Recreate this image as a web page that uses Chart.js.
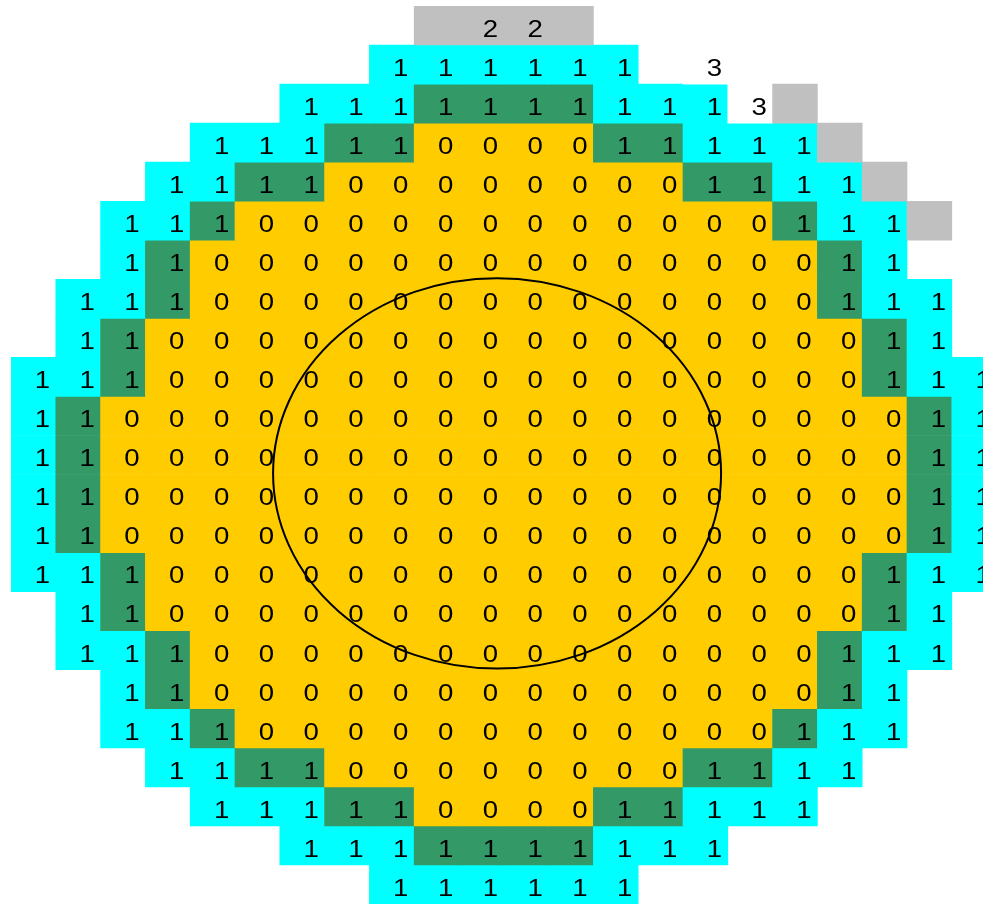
<!DOCTYPE html>
<html>
<head>
<meta charset="utf-8">
<title>Core map</title>
<script src="https://cdn.jsdelivr.net/npm/chart.js@4/dist/chart.umd.min.js"></script>
<style>
    html, body { margin: 0; padding: 0; background: #ffffff; overflow: hidden; }
    #wrap { width: 998px; height: 904px; }
</style>
</head>
<body>
<div id="wrap"><canvas id="coreChart" width="998" height="904"></canvas></div>
<script>
// column categories (22 columns, the last one is cut by the window)
const columns = ['0', '1', '2', '3', '4', '5', '6', '7', '8', '9', '10',
                 '11', '12', '13', '14', '15', '16', '17', '18', '19', '20', '21'];

// value shown in each cell, row by row from the top ('.' = no text)
const valueRows = [
    '..........22..........',
    '........111111.3......',
    '......11111111113.....',
    '....11111000011111....',
    '...1111000000001111...',
    '..111000000000000111..',
    '..110000000000000011..',
    '.11100000000000000111.',
    '.11000000000000000011.',
    '1110000000000000000111',
    '1100000000000000000011',
    '1100000000000000000011',
    '1100000000000000000011',
    '1100000000000000000011',
    '1110000000000000000111',
    '.11000000000000000011.',
    '.11100000000000000111.',
    '..110000000000000011..',
    '..111000000000000111..',
    '...1111000000001111...',
    '....11111000011111....',
    '......1111111111......',
    '........111111........'
];

// fill of each cell: y = fuel (0), g = inner ring, c = outer ring, x = grey, w = white, '.' = empty
const zoneRows = [
    '.........xxxx.........',
    '........cccccc.w......',
    '......cccggggcccwx....',
    '....cccggyyyyggcccx...',
    '...ccggyyyyyyyyggccx..',
    '..ccgyyyyyyyyyyyygccx.',
    '..cgyyyyyyyyyyyyyygc..',
    '.ccgyyyyyyyyyyyyyygcc.',
    '.cgyyyyyyyyyyyyyyyygc.',
    'ccgyyyyyyyyyyyyyyyygcc',
    'cgyyyyyyyyyyyyyyyyyygc',
    'cgyyyyyyyyyyyyyyyyyygc',
    'cgyyyyyyyyyyyyyyyyyygc',
    'cgyyyyyyyyyyyyyyyyyygc',
    'ccgyyyyyyyyyyyyyyyygcc',
    '.cgyyyyyyyyyyyyyyyygc.',
    '.ccgyyyyyyyyyyyyyygcc.',
    '..cgyyyyyyyyyyyyyygc..',
    '..ccgyyyyyyyyyyyygcc..',
    '...ccggyyyyyyyyggcc...',
    '....cccggyyyyggccc....',
    '......cccggggccc......',
    '........cccccc........'
];

// circle drawn over the map (centre in column / row units, radius in cells)
const circleCenter = [10.35, 11.97];
const circleRadius = 5;

const zoneColors = {
    y: '#ffcc00',
    g: '#339966',
    c: '#00ffff',
    x: '#c0c0c0',
    w: '#ffffff'
};

// the source picture is stretched sideways, so the digits are too
const TEXT_STRETCH = 1.15;

// one floating-bar dataset per row: each cell spans [row, row + 1]
const datasets = zoneRows.map((zones, r) => {
    const data = columns.map((col, c) => zones[c] === '.' ? null : [r, r + 1]);
    const colors = columns.map((col, c) => zoneColors[zones[c]] || 'rgba(0,0,0,0)');
    return {
        label: 'row ' + r,
        data,
        backgroundColor: colors,
        borderWidth: 0,
        barPercentage: 1,
        categoryPercentage: 1,
        grouped: false
    };
});

// cell numbers, placed like the original (a little right of and below the centre)
const cellLabels = {
    id: 'cellLabels',
    afterDatasetsDraw(chart) {
        const { ctx, scales: { x, y } } = chart;
        ctx.save();
        ctx.fillStyle = '#000000';
        ctx.font = '24px "Liberation Sans", Arial, sans-serif';
        ctx.textAlign = 'center';
        ctx.textBaseline = 'alphabetic';
        valueRows.forEach((row, r) => {
            for (let c = 0; c < columns.length; c++) {
                const v = row[c];
                if (!v || v === '.') continue;
                const px = x.getPixelForValue(c + 0.2);
                const py = y.getPixelForValue(r + 0.5 + 0.29);
                ctx.save();
                ctx.translate(px, py);
                ctx.scale(TEXT_STRETCH, 1);
                ctx.fillText(v, 0, 0);
                ctx.restore();
            }
        });
        ctx.restore();
    }
};

const circleOverlay = {
    id: 'circleOverlay',
    afterDatasetsDraw(chart) {
        const { ctx, scales: { x, y } } = chart;
        const cx = x.getPixelForValue(circleCenter[0]);
        const cy = y.getPixelForValue(circleCenter[1]);
        const rx = Math.abs(x.getPixelForValue(circleCenter[0] + circleRadius) - cx);
        const ry = Math.abs(y.getPixelForValue(circleCenter[1] + circleRadius) - cy);
        ctx.save();
        ctx.strokeStyle = '#000000';
        ctx.lineWidth = 2;
        ctx.beginPath();
        ctx.ellipse(cx, cy, rx, ry, 0, 0, Math.PI * 2);
        ctx.stroke();
        ctx.restore();
    }
};

new Chart(document.getElementById('coreChart'), {
    type: 'bar',
    data: { labels: columns, datasets },
    options: {
        responsive: false,
        animation: false,
        events: [],
        layout: { padding: { left: 11, top: 6, right: 1.4, bottom: 0 } },
        plugins: {
            legend: { display: false },
            tooltip: { enabled: false }
        },
        scales: {
            x: { type: 'category', offset: true, display: false },
            y: { type: 'linear', min: 0, max: 23, reverse: true, display: false }
        }
    },
    plugins: [cellLabels, circleOverlay]
});
</script>
</body>
</html>
